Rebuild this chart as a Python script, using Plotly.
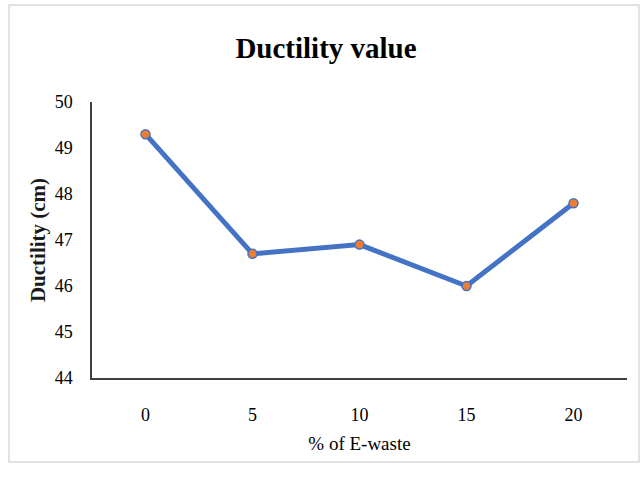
import plotly.graph_objects as go

# E-waste content (%) and measured ductility (cm)
ewaste_pct = ["0", "5", "10", "15", "20"]
ductility_cm = [49.3, 46.7, 46.9, 46.0, 47.8]
y_ticks = [44, 45, 46, 47, 48, 49, 50]

W, H = 643, 491
L, R, T, B = 92, 16, 102, 113
pw, ph = W - L - R, H - T - B


def px_x(p):
    return (p - L) / pw


def px_y(p):
    return (H - B - p) / ph


serif = "Liberation Serif"

fig = go.Figure()
fig.add_trace(go.Scatter(
    x=ewaste_pct,
    y=ductility_cm,
    mode="lines+markers",
    line=dict(color="#4472C4", width=5),
    marker=dict(color="#ED7D31", size=9, line=dict(color="#4472C4", width=1.5)),
    showlegend=False,
))

fig.update_layout(
    width=W, height=H,
    margin=dict(l=L, r=R, t=T, b=B),
    paper_bgcolor="white",
    plot_bgcolor="white",
    title=dict(
        text="<b>Ductility value</b>",
        x=0.507, xanchor="center", y=1 - 48 / H, yanchor="middle",
        font=dict(family=serif, size=29, color="black"),
    ),
    xaxis=dict(
        type="category",
        range=[-0.5, len(ewaste_pct) - 0.5],
        showgrid=False,
        showline=True, linecolor="#404040", linewidth=1.5,
        ticks="", ticklabelstandoff=20,
        tickfont=dict(family=serif, size=18, color="black"),
        title=dict(text="% of E-waste", standoff=12,
                   font=dict(family=serif, size=19, color="black")),
    ),
    yaxis=dict(
        range=[44, 50],
        tickvals=y_ticks,
        showgrid=False, zeroline=False,
        showline=True, linecolor="#404040", linewidth=1.5,
        ticks="", ticklabelstandoff=14,
        tickfont=dict(family=serif, size=18, color="black"),
        title=dict(text="<b>Ductility (cm)</b>", standoff=3,
                   font=dict(family=serif, size=21, color="#1a1a1a")),
    ),
    shapes=[dict(
        type="rect", xref="paper", yref="paper",
        x0=px_x(9), x1=px_x(639), y0=px_y(462), y1=px_y(5),
        line=dict(color="#D9D9D9", width=1.5), fillcolor="rgba(0,0,0,0)",
        layer="below",
    )],
)

fig.write_html("out.html")
